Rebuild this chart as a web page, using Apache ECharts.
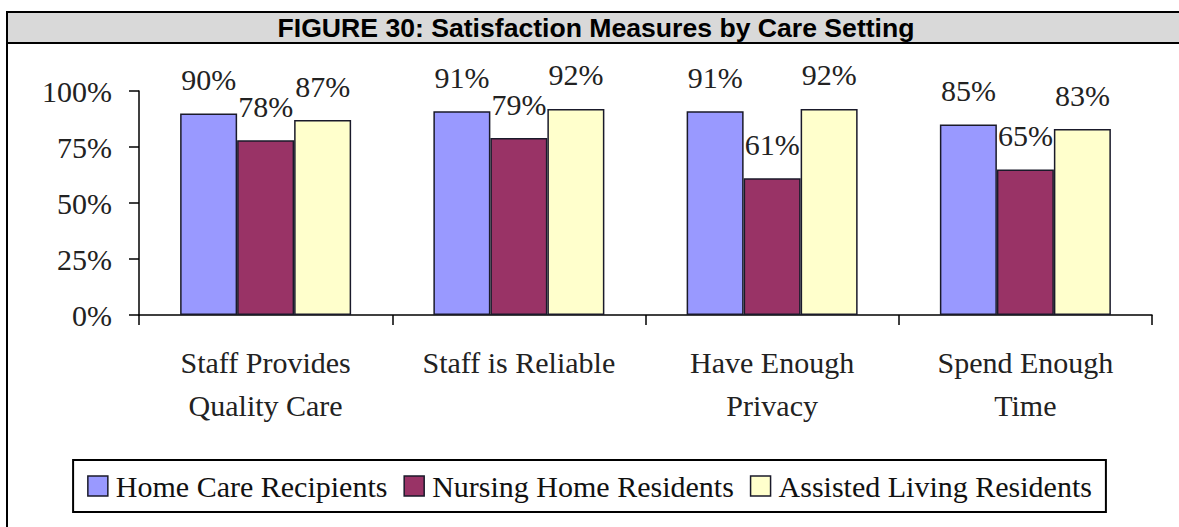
<!DOCTYPE html>
<html>
<head>
<meta charset="utf-8">
<script src="https://cdn.jsdelivr.net/npm/echarts@6/dist/echarts.min.js"></script>
<style>
html,body{margin:0;padding:0;background:#fff;}
#chart{width:1179px;height:527px;}
</style>
</head>
<body>
<div id="chart"></div>
<script>
const titleText = 'FIGURE 30: Satisfaction Measures by Care Setting';
const categories = ['Staff Provides\nQuality Care', 'Staff is Reliable', 'Have Enough\nPrivacy', 'Spend Enough\nTime'];
const seriesNames = ['Home Care Recipients', 'Nursing Home Residents', 'Assisted Living Residents'];
const homeCare = [90, 91, 91, 85];
const nursingHome = [78, 79, 61, 65];
const assistedLiving = [87, 92, 92, 83];
const yTicks = [0, 25, 50, 75, 100];
const colors = ['#9999ff', '#993366', '#ffffcc'];

const serif = '"Liberation Serif", "Times New Roman", serif';
const chart = echarts.init(document.getElementById('chart'), null, {renderer: 'svg'});

const values = [homeCare, nursingHome, assistedLiving];
const series = seriesNames.map((name, i) => ({
  name: name,
  type: 'bar',
  data: values[i],
  barWidth: 57,
  barGap: '0%',
  itemStyle: {color: colors[i], borderColor: '#1a1a2a', borderWidth: 1.5},
  label: {
    show: true,
    position: 'top',
    distance: 19,
    formatter: '{c}%',
    fontFamily: serif,
    fontSize: 30,
    color: '#222'
  }
}));

chart.setOption({
  animation: false,
  graphic: [
    {type: 'rect', z: -10, shape: {x: 7, y: 12, width: 1180, height: 540}, style: {fill: '#fff', stroke: '#000', lineWidth: 2}},
    {type: 'rect', z: -9, shape: {x: 7, y: 12, width: 1180, height: 31}, style: {fill: '#d9d9d9', stroke: '#000', lineWidth: 2}},
    {type: 'text', z: 10, x: 596, y: 28, style: {text: titleText, fontFamily: '"Liberation Sans", Arial, sans-serif', fontWeight: 'bold', fontSize: 26.6, fill: '#000', textAlign: 'center', textVerticalAlign: 'middle'}}
  ],
  grid: {left: 139, right: 27, top: 91, bottom: 212, containLabel: false},
  xAxis: {
    type: 'category',
    data: categories,
    axisLine: {lineStyle: {color: '#000', width: 1.5}},
    axisTick: {show: true, length: 10, alignWithLabel: false, lineStyle: {color: '#000', width: 1.5}},
    axisLabel: {fontFamily: serif, fontSize: 30, color: '#222', margin: 26, lineHeight: 43, interval: 0}
  },
  yAxis: {
    type: 'value',
    min: 0,
    max: 100,
    interval: 25,
    splitLine: {show: false},
    axisLine: {show: true, lineStyle: {color: '#000', width: 1.5}},
    axisTick: {show: true, length: 10, lineStyle: {color: '#000', width: 1.5}},
    axisLabel: {fontFamily: serif, fontSize: 30, color: '#222', margin: 27, formatter: v => yTicks.includes(v) ? v + '%' : ''}
  },
  legend: {
    data: seriesNames,
    top: 460,
    left: 'center',
    orient: 'horizontal',
    icon: 'rect',
    itemWidth: 20,
    itemHeight: 20,
    itemGap: 16,
    padding: [11, 14],
    borderColor: '#000',
    borderWidth: 2,
    itemStyle: {borderColor: '#1a1a2a', borderWidth: 1.5},
    textStyle: {fontFamily: serif, fontSize: 30, color: '#111', lineHeight: 30, padding: [0, 0, 0, 3]}
  },
  series: series
});
</script>
</body>
</html>
